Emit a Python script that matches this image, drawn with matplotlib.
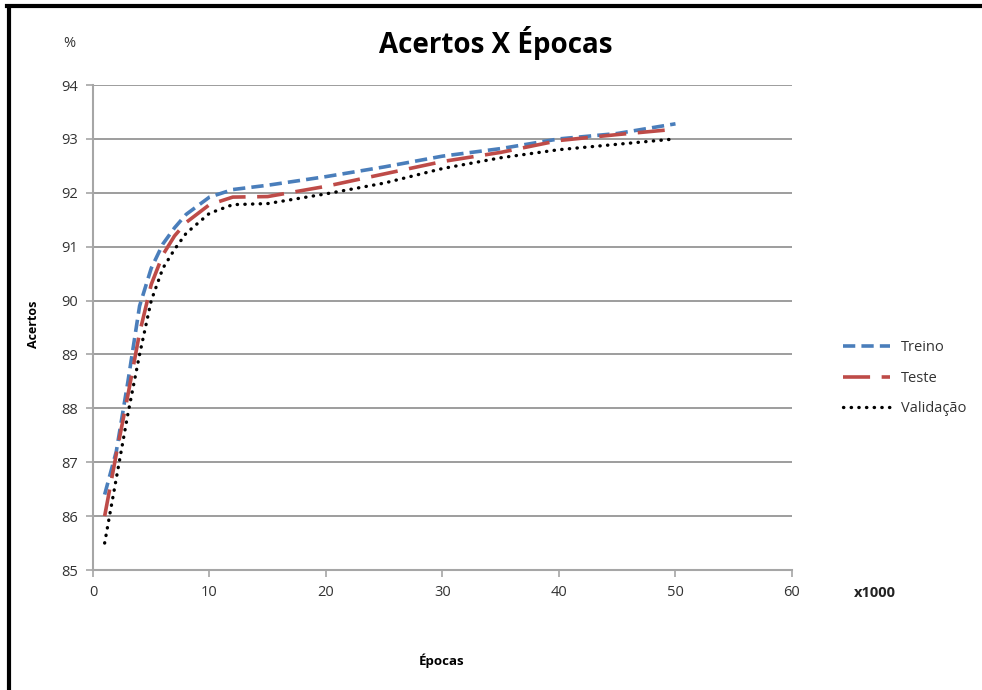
import matplotlib.pyplot as plt
from matplotlib.lines import Line2D

plt.rcParams['font.family'] = ['Open Sans', 'DejaVu Sans']

# Acertos (%) por época (x1000)
epocas = [1, 2, 3, 4, 5, 6, 7, 8, 10, 12, 15, 20, 25, 30, 35, 40, 45, 50]
treino = [86.4, 87.2, 88.5, 89.9, 90.6, 91.05, 91.35, 91.6, 91.92, 92.06, 92.14,
          92.3, 92.48, 92.68, 92.82, 93.0, 93.1, 93.28]
teste = [86.0, 87.15, 88.25, 89.4, 90.3, 90.85, 91.2, 91.45, 91.78, 91.92, 91.93,
         92.12, 92.35, 92.58, 92.75, 92.97, 93.08, 93.18]
validacao = [85.5, 86.7, 87.9, 89.0, 90.0, 90.6, 90.95, 91.25, 91.62, 91.78, 91.8,
             91.98, 92.18, 92.45, 92.65, 92.8, 92.9, 93.0]

fig = plt.figure(figsize=(9.82, 6.90), dpi=100)
ax = fig.add_axes([0.0947, 0.1739, 0.7118, 0.7029])

ax.plot(epocas, treino, color='#4a7ebb', lw=2.6, linestyle=(0, (3.4, 1.7)),
        solid_capstyle='butt', label='Treino')
ax.plot(epocas, teste, color='#be4b48', lw=2.6, linestyle=(0, (7.5, 3.2)),
        label='Teste')
ax.plot(epocas, validacao, color='black', lw=2.4, linestyle=(0, (0.1, 2.2)),
        dash_capstyle='round', label='Validação')

ax.set_xlim(0, 60)
ax.set_ylim(85, 94)
ax.set_xticks(range(0, 61, 10))
ax.set_yticks(range(85, 95))
ax.yaxis.grid(True, color='#8c8c8c', lw=1.2)
ax.set_axisbelow(True)
for s in ['top', 'right']:
    ax.spines[s].set_visible(False)
for s in ['left', 'bottom']:
    ax.spines[s].set_color('#a6a6a6')
    ax.spines[s].set_linewidth(1.5)
ax.tick_params(colors='#a6a6a6', length=5, width=1.2, labelcolor='#333333',
               labelsize=10.5, pad=6)

fig.text(0.505, 0.937, 'Acertos X Épocas', ha='center', va='center',
         fontsize=20, fontweight='bold')
fig.text(0.071, 0.937, '%', ha='center', va='center', fontsize=10.5, color='#333333')
fig.text(0.034, 0.53, 'Acertos', ha='center', va='center', rotation=90,
         fontsize=9, fontweight='bold')
fig.text(0.45, 0.043, 'Épocas', ha='center', va='center', fontsize=9.5,
         fontweight='bold')
fig.text(0.87, 0.14, 'x1000', ha='left', va='center', fontsize=10.5,
         fontweight='bold', color='#222222')

ax.legend(loc='center left', bbox_to_anchor=(0.845, 0.452),
          bbox_transform=fig.transFigure, frameon=False, fontsize=10.5,
          handlelength=3.2, labelspacing=1.05, handletextpad=0.8,
          labelcolor='#333333')

# moldura
fig.add_artist(Line2D([0.009, 0.009], [0.0, 0.99], color='black', lw=3,
                      transform=fig.transFigure))
fig.add_artist(Line2D([0.007, 1.0], [0.991, 0.991], color='black', lw=3,
                      transform=fig.transFigure))

fig.savefig('out.png', dpi=100)
